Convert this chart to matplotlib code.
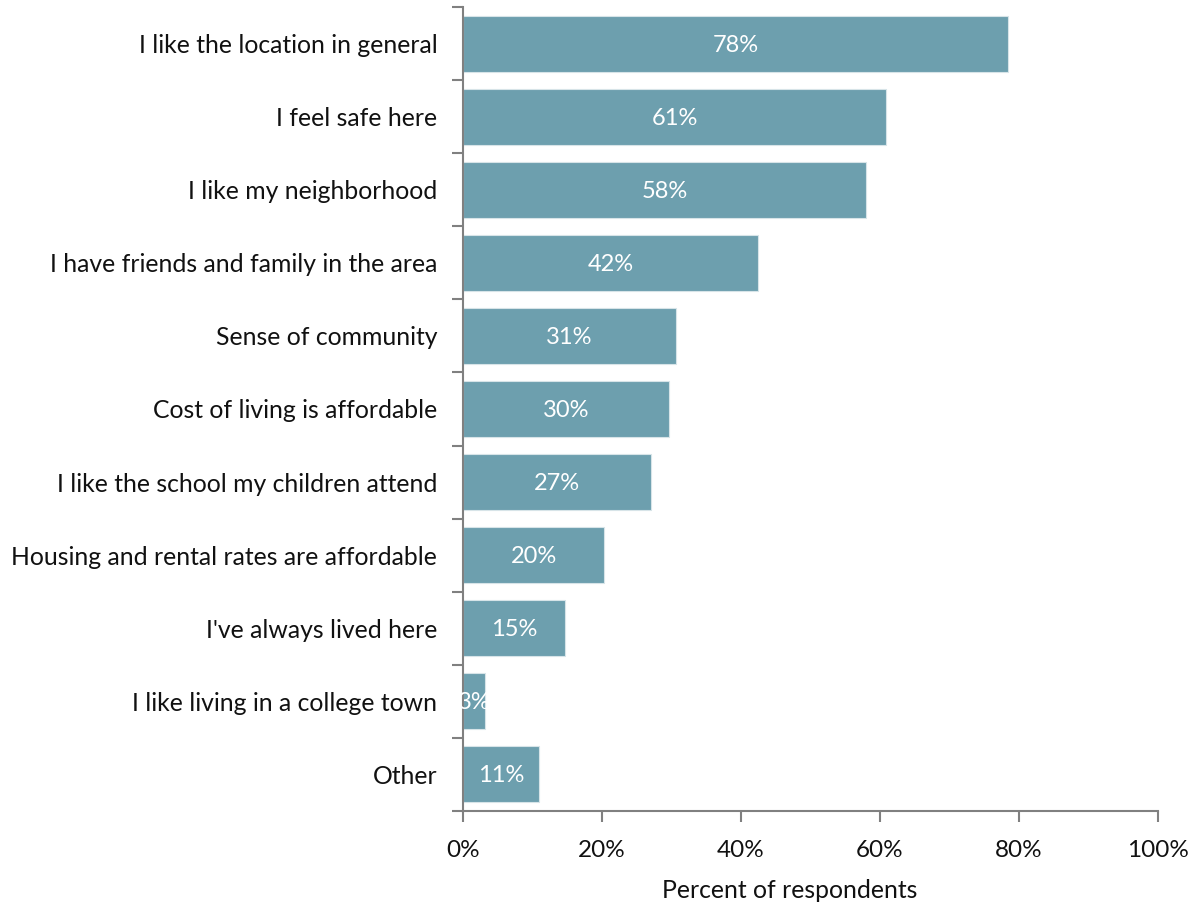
import matplotlib
matplotlib.use("Agg")
import matplotlib.pyplot as plt
import numpy as np

categories = [
    "I like the location in general",
    "I feel safe here",
    "I like my neighborhood",
    "I have friends and family in the area",
    "Sense of community",
    "Cost of living is affordable",
    "I like the school my children attend",
    "Housing and rental rates are affordable",
    "I've always lived here",
    "I like living in a college town",
    "Other",
]
values = [78.4, 60.9, 58.0, 42.4, 30.6, 29.6, 27.1, 20.3, 14.7, 3.2, 10.9]
xticks = [0, 20, 40, 60, 80, 100]
xtick_labels = ["0%", "20%", "40%", "60%", "80%", "100%"]

plt.rcParams['font.family'] = ['Lato', 'DejaVu Sans']
BAR = "#6d9fae"
AX = "#808080"

fig = plt.figure(figsize=(11.97, 9.09), dpi=100)
ax = fig.add_axes([463/1197, 1 - 811/909, (1158-463)/1197, (811-7)/909])

n = len(categories)
y = np.arange(n)
bars = ax.barh(y, values, height=0.766, color=BAR, edgecolor="#d7e4e8", linewidth=0.8)
ax.set_ylim(n - 0.5, -0.5)
ax.set_xlim(0, 100)

for b, v in zip(bars, values):
    t = ax.text(b.get_x() + b.get_width() / 2, b.get_y() + b.get_height() / 2 + 0.02,
                f"{v:.0f}%", color="white", fontsize=17, ha="center", va="center")
    t.set_clip_path(b)

ax.set_yticks(y)
ax.set_yticklabels(categories, fontsize=17.8, color="#111111")
ax.set_yticks(np.arange(-0.5, n + 0.5, 1), minor=True)
ax.tick_params(axis="y", which="major", length=0, pad=18.5)
ax.tick_params(axis="y", which="minor", length=8, width=1.5, color=AX, direction="out")

ax.set_xticks(xticks)
ax.set_xticklabels(xtick_labels, fontsize=17.5, color="#111111")
ax.tick_params(axis="x", which="major", length=8, width=1.5, color=AX, direction="out", pad=13)

for s in ["top", "right"]:
    ax.spines[s].set_visible(False)
for s in ["left", "bottom"]:
    ax.spines[s].set_color(AX)
    ax.spines[s].set_linewidth(1.5)

ax.set_xlabel("Percent of respondents", fontsize=17.8, color="#111111")
ax.xaxis.set_label_coords((790 - 463) / (1158 - 463), -0.085)

fig.savefig("out.png", dpi=100)
